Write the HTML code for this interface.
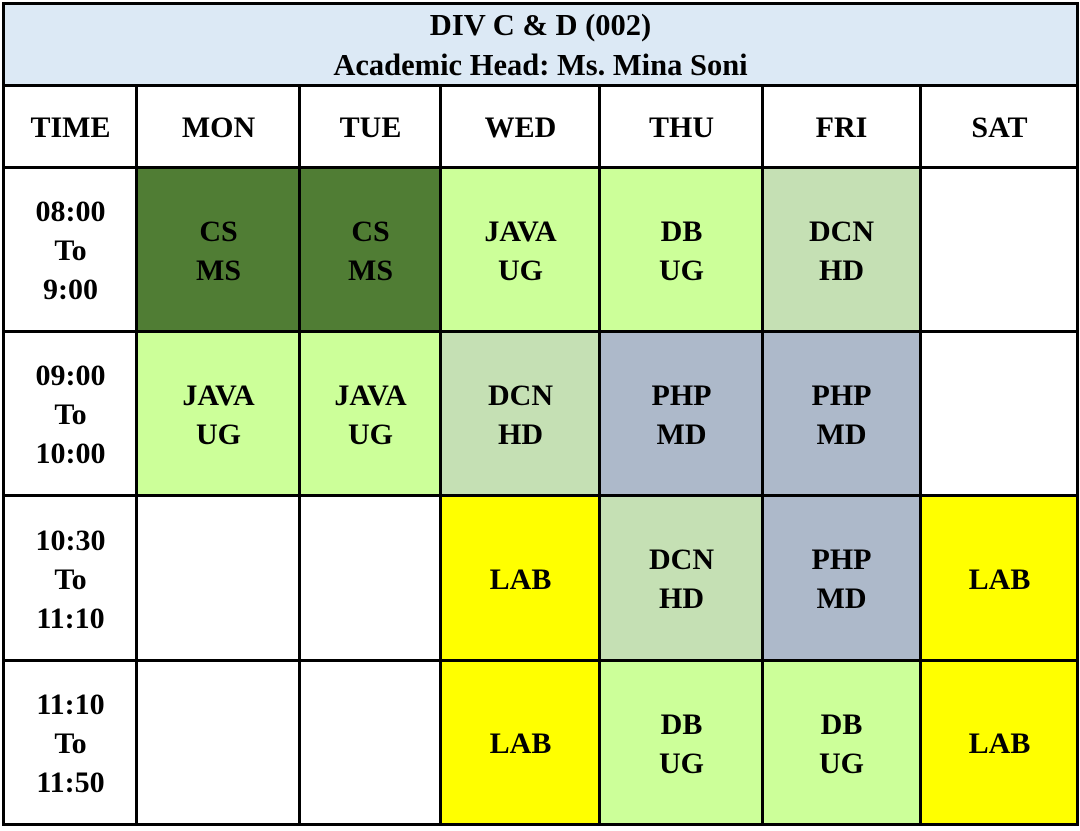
<!DOCTYPE html>
<html><head><style>
body{margin:0;width:1080px;height:831px;background:#fff;position:relative;overflow:hidden;font-family:"Liberation Serif",serif;font-weight:bold;}
.c{position:absolute;display:flex;align-items:center;justify-content:center;text-align:center;font-size:30px;line-height:39px;color:#000;}
.l{position:absolute;background:#000;}
</style></head><body>
<div class="c" style="left:3px;top:4px;width:1075px;height:82px;background:#dce9f5;line-height:40px;font-size:30.5px">DIV C &amp; D (002)<br>Academic Head: Ms. Mina Soni</div>

<div class="c" style="left:5px;top:87px;width:131px;height:80px">TIME</div>
<div class="c" style="left:138px;top:87px;width:161px;height:80px">MON</div>
<div class="c" style="left:301px;top:87px;width:139px;height:80px">TUE</div>
<div class="c" style="left:442px;top:87px;width:157px;height:80px">WED</div>
<div class="c" style="left:601px;top:87px;width:161px;height:80px">THU</div>
<div class="c" style="left:763px;top:87px;width:157px;height:80px">FRI</div>
<div class="c" style="left:922px;top:87px;width:155px;height:80px">SAT</div>

<div class="c" style="left:5px;top:169px;width:131px;height:163px">08:00<br>To<br>9:00</div>
<div class="c" style="left:138px;top:169px;width:161px;height:163px;background:#507d34">CS<br>MS</div>
<div class="c" style="left:301px;top:169px;width:139px;height:163px;background:#507d34">CS<br>MS</div>
<div class="c" style="left:442px;top:169px;width:157px;height:163px;background:#ccff99">JAVA<br>UG</div>
<div class="c" style="left:601px;top:169px;width:161px;height:163px;background:#ccff99">DB<br>UG</div>
<div class="c" style="left:763px;top:169px;width:157px;height:163px;background:#c5e0b4">DCN<br>HD</div>

<div class="c" style="left:5px;top:333px;width:131px;height:163px">09:00<br>To<br>10:00</div>
<div class="c" style="left:138px;top:333px;width:161px;height:163px;background:#ccff99">JAVA<br>UG</div>
<div class="c" style="left:301px;top:333px;width:139px;height:163px;background:#ccff99">JAVA<br>UG</div>
<div class="c" style="left:442px;top:333px;width:157px;height:163px;background:#c5e0b4">DCN<br>HD</div>
<div class="c" style="left:601px;top:333px;width:161px;height:163px;background:#adb9ca">PHP<br>MD</div>
<div class="c" style="left:763px;top:333px;width:157px;height:163px;background:#adb9ca">PHP<br>MD</div>

<div class="c" style="left:5px;top:497px;width:131px;height:164px">10:30<br>To<br>11:10</div>
<div class="c" style="left:442px;top:497px;width:157px;height:164px;background:#ffff00">LAB</div>
<div class="c" style="left:601px;top:497px;width:161px;height:164px;background:#c5e0b4">DCN<br>HD</div>
<div class="c" style="left:763px;top:497px;width:157px;height:164px;background:#adb9ca">PHP<br>MD</div>
<div class="c" style="left:922px;top:497px;width:155px;height:164px;background:#ffff00">LAB</div>

<div class="c" style="left:5px;top:662px;width:131px;height:163px">11:10<br>To<br>11:50</div>
<div class="c" style="left:442px;top:662px;width:157px;height:163px;background:#ffff00">LAB</div>
<div class="c" style="left:601px;top:662px;width:161px;height:163px;background:#ccff99">DB<br>UG</div>
<div class="c" style="left:763px;top:662px;width:157px;height:163px;background:#ccff99">DB<br>UG</div>
<div class="c" style="left:922px;top:662px;width:155px;height:163px;background:#ffff00">LAB</div>

<div class="l" style="left:2px;top:2px;width:1077px;height:3px"></div>
<div class="l" style="left:2px;top:84px;width:1077px;height:3px"></div>
<div class="l" style="left:2px;top:166px;width:1077px;height:3px"></div>
<div class="l" style="left:2px;top:330px;width:1077px;height:3px"></div>
<div class="l" style="left:2px;top:494px;width:1077px;height:3px"></div>
<div class="l" style="left:2px;top:659px;width:1077px;height:3px"></div>
<div class="l" style="left:2px;top:823px;width:1077px;height:3px"></div>
<div class="l" style="left:2px;top:2px;width:3px;height:824px"></div>
<div class="l" style="left:1076px;top:2px;width:3px;height:824px"></div>
<div class="l" style="left:135px;top:84px;width:3px;height:742px"></div>
<div class="l" style="left:298px;top:84px;width:3px;height:742px"></div>
<div class="l" style="left:439px;top:84px;width:3px;height:742px"></div>
<div class="l" style="left:598px;top:84px;width:3px;height:742px"></div>
<div class="l" style="left:761px;top:84px;width:3px;height:742px"></div>
<div class="l" style="left:919px;top:84px;width:3px;height:742px"></div>
</body></html>
